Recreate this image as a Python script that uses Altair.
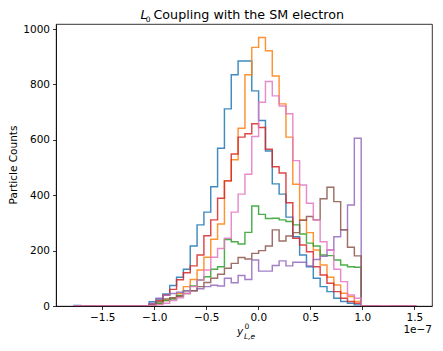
import altair as alt
import pandas as pd

# histogram binning (units of 1e-7)
bin_start = -1.771
bin_width = 0.06572
n_bins = 50
first_bin = 11  # lists below start at this bin index

series_names = ["s0", "s1", "s2", "s3", "s4", "s5", "s6"]
colors = ["#1f77b4", "#ff7f0e", "#2ca02c", "#d62728", "#9467bd", "#8c564b", "#e377c2"]

blue = [15, 25, 43, 74, 104, 133, 217, 293, 339, 431, 570, 712, 835, 885, 885, 777,
        670, 560, 441, 404, 321, 250, 184, 142, 100, 70, 52, 28, 16, 10, 4]
orange = [2, 8, 20, 28, 45, 70, 96, 130, 176, 241, 296, 452, 528, 642, 835, 934,
          970, 922, 831, 730, 610, 440, 311, 265, 202, 148, 104, 76, 46, 34, 16]
green = [3, 10, 20, 25, 38, 55, 72, 94, 106, 133, 142, 240, 232, 224, 266, 361,
         331, 316, 317, 311, 305, 293, 260, 227, 217, 184, 182, 166, 148, 142, 140]
red = [8, 20, 40, 60, 95, 120, 145, 184, 254, 311, 389, 452, 549, 610, 622, 658,
       645, 566, 503, 480, 373, 245, 220, 196, 142, 112, 82, 52, 28, 16, 10]
purple = [10, 28, 40, 45, 50, 55, 55, 62, 70, 75, 72, 100, 84, 110, 96, 166,
          126, 126, 146, 163, 145, 158, 158, 145, 168, 180, 202, 250, 275, 365, 606]
brown = [5, 15, 25, 30, 35, 45, 55, 70, 85, 100, 115, 136, 154, 175, 170, 190,
         200, 217, 275, 235, 253, 265, 310, 323, 311, 387, 429, 377, 275, 212, 181]
pink = [2, 5, 10, 20, 30, 45, 70, 94, 130, 176, 208, 245, 339, 404, 476, 612,
        736, 811, 759, 722, 694, 525, 437, 371, 311, 232, 202, 133, 88, 40, 28]

# a few stray counts outside the main range: (series index, bin index, count)
strays = [(0, 0, 2), (6, 45, 1), (4, 46, 1), (2, 49, 1)]

all_series = [blue, orange, green, red, purple, brown, pink]

x_ticks = [-1.5, -1.0, -0.5, 0.0, 0.5, 1.0, 1.5]
y_ticks = [0, 200, 400, 600, 800, 1000]

W, H = 376, 282
FONT = "DejaVu Sans"

edges = [bin_start + bin_width * k for k in range(n_bins + 1)]

layers = []
for i, vals in enumerate(all_series):
    counts = [0] * n_bins
    for j, v in enumerate(vals):
        counts[first_bin + j] = v
    for s, k, c in strays:
        if s == i:
            counts[k] = c
    xs = [edges[0]] + edges[:n_bins] + [edges[n_bins]]
    ys = [0] + counts + [0]
    df = pd.DataFrame({"x": xs, "y": ys, "o": list(range(len(xs)))})
    layers.append(
        alt.Chart(df).mark_line(interpolate="step-after", color=colors[i],
                                strokeWidth=1.45, opacity=0.85)
        .encode(
            x=alt.X("x:Q", scale=alt.Scale(domain=[-1.944, 1.67], nice=False, zero=False),
                    axis=alt.Axis(values=x_ticks, title=None, grid=False, zindex=1,
                                  labelExpr="replace(format(datum.value, '.1f'), '-', '\u2212')")),
            y=alt.Y("y:Q", scale=alt.Scale(domain=[0, 1018.5], nice=False),
                    axis=alt.Axis(values=y_ticks, title=None, grid=False, format="d", zindex=1)),
            order="o:Q",
        )
    )

def txt(s, x, y, size=10.5, style="normal", align="left", baseline="alphabetic", angle=0):
    return alt.Chart(pd.DataFrame({"t": [s]})).mark_text(
        font=FONT, fontSize=size, fontStyle=style, align=align, baseline=baseline,
        angle=angle, color="black"
    ).encode(text="t:N", x=alt.value(x), y=alt.value(y))

texts = [
    txt("L", 84.5, -5, size=12.7, style="italic"),
    txt("0", 89.8, -2.5, size=7.5),
    txt("Coupling with the SM electron", 97.5, -5, size=12.7),
    txt("y", 184, H + 29, size=10.5, style="italic", align="center"),
    txt("0", 188.5, H + 23, size=7.5),
    txt("L,e", 188, H + 33, size=7.5, style="italic"),
    txt("1e\u22127", W, H + 27, size=10.5, align="right"),
    txt("Particle Counts", -42.5, H / 2, size=10.5, align="center", baseline="middle", angle=270),
]

chart = alt.layer(*layers, *texts).properties(
    width=W, height=H,
    autosize=alt.AutoSizeParams(type="none"),
    padding={"left": 48, "top": 16, "right": 3, "bottom": 37},
).configure_view(
    stroke="black", strokeWidth=0.8
).configure_axis(
    domainColor="black", domainWidth=0.8, tickColor="black", tickWidth=0.8, tickSize=3.5,
    labelColor="black", labelFont=FONT, labelFontSize=10.5, labelPadding=3
).configure_axisX(labelBaseline="top")

chart.save("out.html", embed_options={"renderer": "svg", "actions": False})
